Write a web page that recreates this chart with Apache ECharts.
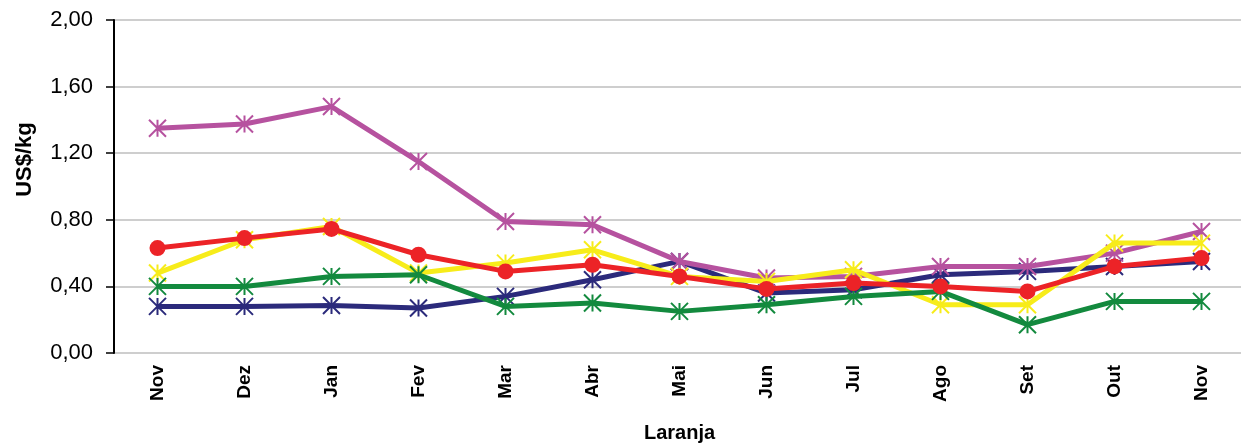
<!DOCTYPE html>
<html><head><meta charset="utf-8">
<script src="https://cdn.jsdelivr.net/npm/echarts@6/dist/echarts.min.js"></script>
<style>html,body{margin:0;padding:0;background:#fff}#c{width:1241px;height:443px}</style>
</head><body><div id="c"></div>
<script>
const categories = ['Nov','Dez','Jan','Fev','Mar','Abr','Mai','Jun','Jul','Ago','Set','Out','Nov'];
const navy   = [0.28,0.28,0.285,0.27,0.34,0.44,0.55,0.36,0.38,0.47,0.49,0.52,0.55];
const purple = [1.35,1.375,1.48,1.15,0.79,0.77,0.55,0.45,0.46,0.52,0.52,0.60,0.73];
const yellow = [0.48,0.68,0.76,0.48,0.54,0.62,0.46,0.43,0.50,0.29,0.29,0.66,0.66];
const green  = [0.40,0.40,0.46,0.47,0.28,0.30,0.25,0.29,0.34,0.37,0.17,0.31,0.31];
const red    = [0.63,0.69,0.745,0.59,0.49,0.53,0.46,0.385,0.42,0.40,0.37,0.52,0.57];
const yTicks = [0, 0.4, 0.8, 1.2, 1.6, 2.0];

const FONT = 'Liberation Sans, Arial, sans-serif';
const star = 'path://M0,0 L10,10 M10,0 L0,10 M5,0 L5,10';
function starSeries(data, c, z){
  return {type:'line', data, z, color:c, symbol:star, symbolSize:17,
    lineStyle:{color:c, width:5},
    itemStyle:{color:'rgba(0,0,0,0)', borderColor:c, borderWidth:2},
    emphasis:{disabled:true}};
}
const chart = echarts.init(document.getElementById('c'), null, {renderer:'canvas'});
chart.setOption({
  animation:false,
  grid:{left:114, right:-4, top:20, bottom:90, containLabel:false, outerBoundsMode:'none'},
  xAxis:{type:'category', data:categories, boundaryGap:true,
    axisLine:{show:false}, axisTick:{show:false},
    axisLabel:{rotate:90, fontSize:19, fontWeight:'bold', color:'#000', margin:12, fontFamily:FONT},
    name:'Laranja', nameLocation:'middle', nameGap:70,
    nameTextStyle:{fontSize:20, fontWeight:'bold', color:'#000', fontFamily:FONT}},
  yAxis:{type:'value', min:0, max:2, interval:0.4,
    axisLine:{show:true, lineStyle:{color:'#000', width:2}},
    axisTick:{show:true, length:8, lineStyle:{color:'#000', width:1.5}},
    splitLine:{show:true, lineStyle:{color:'#BEBEBE', width:1.5}},
    axisLabel:{fontSize:22, color:'#000', margin:21, fontFamily:FONT,
      formatter:v=>{const t=yTicks.find(x=>Math.abs(x-v)<1e-6); return (t!==undefined?t:v).toFixed(2).replace('.',',');}},
    name:'US$/kg', nameLocation:'middle', nameGap:78, nameRotate:90,
    nameTextStyle:{fontSize:22, fontWeight:'bold', color:'#000', fontFamily:FONT, padding:[0,0,0,54]}},
  series:[
    starSeries(navy,'#2B2A7B',2),
    starSeries(purple,'#B6529F',3),
    starSeries(yellow,'#F7EC1A',4),
    starSeries(green,'#138A3E',5),
    {type:'line', data:red, z:6, symbol:'circle', symbolSize:16, color:'#EC2327',
      lineStyle:{color:'#EC2327', width:5}, itemStyle:{color:'#EC2327'}, emphasis:{disabled:true}}
  ]
});
</script></body></html>
